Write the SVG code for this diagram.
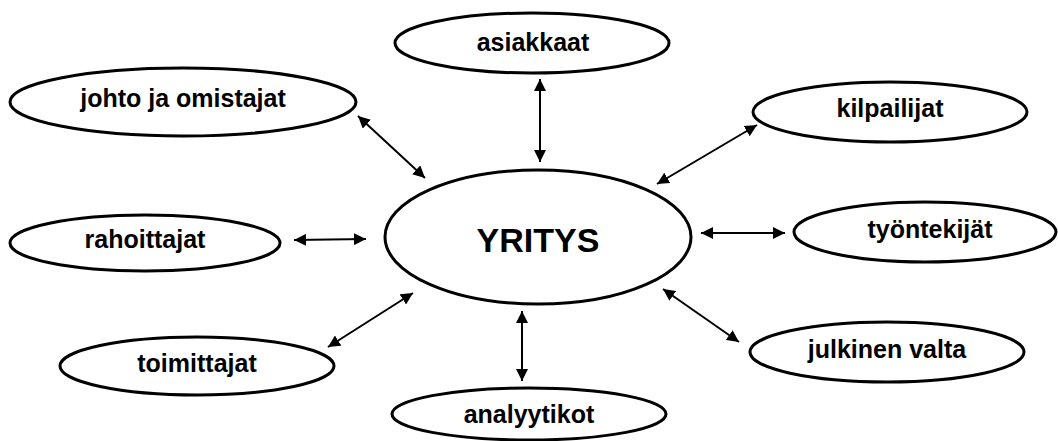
<svg xmlns="http://www.w3.org/2000/svg" width="1058" height="441" viewBox="0 0 1058 441">
<style>
.n{fill:#fff;stroke:#000;stroke-width:3}
.t{font-family:"Liberation Sans",Arial,sans-serif;font-weight:bold;font-size:25px;text-anchor:middle;fill:#000}
.c{stroke:#000;stroke-width:2;fill:none;marker-start:url(#ah);marker-end:url(#ah)}
</style>
<defs>
<marker id="ah" markerUnits="userSpaceOnUse" markerWidth="13" markerHeight="12" refX="12" refY="6" orient="auto-start-reverse">
<path d="M0,0 L12,6 L0,12 z" fill="#000"/>
</marker>
</defs>
<rect width="1058" height="441" fill="#fff"/>
<g id="connectors">
<line class="c" x1="540" y1="79" x2="540" y2="162"/>
<line class="c" x1="358" y1="116" x2="425" y2="178"/>
<line class="c" x1="757" y1="125" x2="657" y2="184"/>
<line class="c" x1="294" y1="240" x2="366" y2="239"/>
<line class="c" x1="701" y1="233" x2="785" y2="233"/>
<line class="c" x1="328" y1="347" x2="413" y2="293"/>
<line class="c" x1="663" y1="289" x2="739" y2="342"/>
<line class="c" x1="522" y1="311" x2="522" y2="381"/>
</g>
<g id="yritys">
<ellipse class="n" cx="538" cy="237" rx="153" ry="67"/>
<text class="t" x="538" y="252" style="font-size:34px">YRITYS</text>
</g>
<g id="asiakkaat">
<ellipse class="n" cx="532" cy="43" rx="137" ry="30"/>
<text class="t" x="533" y="51">asiakkaat</text>
</g>
<g id="johto">
<ellipse class="n" cx="183" cy="102" rx="173" ry="34"/>
<text class="t" x="183" y="107">johto ja omistajat</text>
</g>
<g id="kilpailijat">
<ellipse class="n" cx="890" cy="112" rx="137" ry="30"/>
<text class="t" x="890" y="117">kilpailijat</text>
</g>
<g id="rahoittajat">
<ellipse class="n" cx="145" cy="243" rx="135" ry="28"/>
<text class="t" x="145" y="248">rahoittajat</text>
</g>
<g id="tyontekijat">
<ellipse class="n" cx="925" cy="232" rx="131" ry="30"/>
<text class="t" x="930" y="238">työntekijät</text>
</g>
<g id="toimittajat">
<ellipse class="n" cx="197" cy="366" rx="137" ry="29"/>
<text class="t" x="197" y="372">toimittajat</text>
</g>
<g id="julkinen">
<ellipse class="n" cx="887" cy="352" rx="137" ry="30"/>
<text class="t" x="887" y="358">julkinen valta</text>
</g>
<g id="analyytikot">
<ellipse class="n" cx="529" cy="414" rx="137" ry="26"/>
<text class="t" x="529" y="423">analyytikot</text>
</g>
</svg>
